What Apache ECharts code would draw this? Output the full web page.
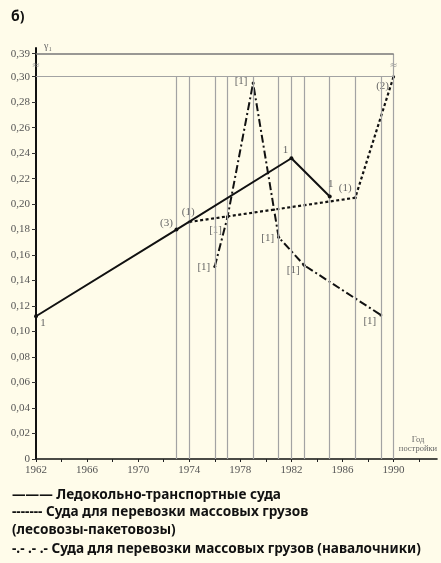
<!DOCTYPE html>
<html>
<head>
<meta charset="utf-8">
<script src="https://cdn.jsdelivr.net/npm/echarts@6/dist/echarts.min.js"></script>
<style>
html,body{margin:0;padding:0;background:#fffcea;}
#c{width:441px;height:563px;}
</style>
</head>
<body>
<div id="c"></div>
<script>
// ---- data ----
const yTickValues = [0,0.02,0.04,0.06,0.08,0.10,0.12,0.14,0.16,0.18,0.20,0.22,0.24,0.26,0.28,0.30,0.318];
const yTickLabels = ['0','0,02','0,04','0,06','0,08','0,10','0,12','0,14','0,16','0,18','0,20','0,22','0,24','0,26','0,28','0,30','0,39'];
const xLabelYears = [1962,1966,1970,1974,1978,1982,1986,1990];
const xTickYears = [1962,1964,1966,1968,1970,1972,1974,1976,1978,1980,1982,1984,1986,1988,1990,1992];
const gridYears = [1973,1974,1976,1977,1979,1981,1982,1983,1985,1987,1989,1990];
const breakValue = 0.309;
const topLineValue = 0.318;
const level030 = 0.30;

const icebreakerYears = [1962,1973,1982,1985];
const icebreakerValues = [0.112,0.180,0.236,0.206];
const icebreakerLabels = ['1','(3)','1','1'];

const timberYears = [1974,1987,1990];
const timberValues = [0.186,0.205,0.300];
const timberLabels = ['(1)','(1)','(2)'];

const bulkYears = [1976,1977,1979,1981,1983,1989];
const bulkValues = [0.151,0.190,0.295,0.174,0.152,0.113];
const bulkLabels = ['[1]','[1]','[1]','[1]','[1]','[1]'];

const legendLines = [
  '——— Ледокольно-транспортные суда',
  '------- Суда для перевозки массовых грузов',
  '(лесовозы-пакетовозы)',
  '-.- .- .- Суда для перевозки массовых грузов (навалочники)'
];

// ---- styles (label offsets) ----
const icebreakerOffsets = [[7,7],[-10,-6],[-6,-8],[1,-12]];
const timberOffsets = [[-1,-10],[-10,-10],[-11,9]];
const bulkOffsets = [[-11,1],[-12,13],[-12,-2],[-11,1],[-11,5],[-11,6]];

const labelFont = {fontFamily:'Liberation Serif', fontSize:11, color:'#666'};

function build(years, values, labels, offsets){
  return years.map((y,i)=>({
    value:[y, values[i]],
    label:{show:true, formatter:labels[i], position:'inside', offset:offsets[i], ...labelFont}
  }));
}

const chart = echarts.init(document.getElementById('c'), null, {renderer:'canvas'});
const yMax = 0.3225;

const legendFont = 'bold 13.6px "Noto Sans"';

const option = {
  backgroundColor:'#fffcea',
  animation:false,
  grid:{left:36, right:4, top:48, bottom:104, containLabel:false},
  xAxis:{
    type:'value', min:1962, max:1993.4,
    splitLine:{show:false},
    axisLine:{lineStyle:{color:'#111', width:1.6}},
    axisTick:{show:true, customValues:xTickYears, length:3, lineStyle:{color:'#222'}},
    axisLabel:{customValues:xLabelYears, fontFamily:'Liberation Serif', fontSize:11, color:'#555', margin:6,
      formatter:v=>String(v)},
    name:'Год\nпостройки',
    nameLocation:'end',
    nameGap:-19,
    nameTextStyle:{fontFamily:'Liberation Serif', fontSize:8.5, color:'#666', align:'center', verticalAlign:'bottom', lineHeight:9, padding:[0,0,6,0]}
  },
  yAxis:{
    type:'value', min:0, max:yMax,
    splitLine:{show:false},
    axisLine:{show:true, lineStyle:{color:'#111', width:2}},
    axisTick:{show:true, customValues:yTickValues, length:4, lineStyle:{color:'#333'}},
    axisLabel:{customValues:yTickValues, fontFamily:'Liberation Serif', fontSize:11, color:'#555', margin:6,
      formatter:v=>{const i=yTickValues.findIndex(t=>Math.abs(t-v)<1e-6); return i>=0?yTickLabels[i]:'';}},
    name:'γ\u2081',
    nameLocation:'end',
    nameGap:2,
    nameTextStyle:{fontFamily:'Liberation Serif', fontSize:10, color:'#666', align:'left', verticalAlign:'middle', padding:[0,0,0,8]}
  },
  series:[
    {
      type:'line', data:[], silent:true,
      markLine:{
        silent:true, symbol:'none', label:{show:false},
        lineStyle:{color:'#a3a3a3', width:1.2, type:'solid'},
        data: gridYears.map(yr=>[{coord:[yr,0]},{coord:[yr, yr===1990?topLineValue:level030]}])
          .concat([[{coord:[1962,level030]},{coord:[1990,level030]}]])
          .concat([[{coord:[1962,topLineValue], lineStyle:{color:'#777', width:1.6}},{coord:[1990,topLineValue]}]])
      },
      z:1
    },
    {
      type:'scatter', silent:true, symbolSize:0,
      data:[[1962,breakValue],[1990,breakValue]],
      label:{show:true, formatter:'≈', position:'inside', fontSize:10, color:'#888', fontFamily:'DejaVu Sans'},
      z:2
    },
    {
      name:'ice', type:'line', data:build(icebreakerYears, icebreakerValues, icebreakerLabels, icebreakerOffsets),
      symbol:'circle', symbolSize:4, itemStyle:{color:'#111'},
      lineStyle:{color:'#111', width:2, type:'solid'}, z:5
    },
    {
      name:'timber', type:'line', data:build(timberYears, timberValues, timberLabels, timberOffsets),
      symbol:'circle', symbolSize:3, itemStyle:{color:'#111'},
      lineStyle:{color:'#111', width:2.2, type:[3,2.5]}, z:4
    },
    {
      name:'bulk', type:'line', data:build(bulkYears, bulkValues, bulkLabels, bulkOffsets),
      symbol:'circle', symbolSize:3, itemStyle:{color:'#111'},
      lineStyle:{color:'#111', width:2, type:[8,3,2,3]}, z:4
    }
  ],
  graphic:[
    {type:'text', x:11, y:17, style:{text:'б)', font:'bold 14px "Noto Sans"', fill:'#111', verticalAlign:'middle'}},
    {type:'text', x:12, y:495.5, style:{text:legendLines[0], font:legendFont, fill:'#111', verticalAlign:'middle'}},
    {type:'text', x:12, y:512.5, style:{text:legendLines[1], font:legendFont, fill:'#111', verticalAlign:'middle'}},
    {type:'text', x:12, y:530, style:{text:legendLines[2], font:legendFont, fill:'#111', verticalAlign:'middle'}},
    {type:'text', x:12, y:549, style:{text:legendLines[3], font:legendFont, fill:'#111', verticalAlign:'middle'}}
  ]
};
chart.setOption(option);
</script>
</body>
</html>
